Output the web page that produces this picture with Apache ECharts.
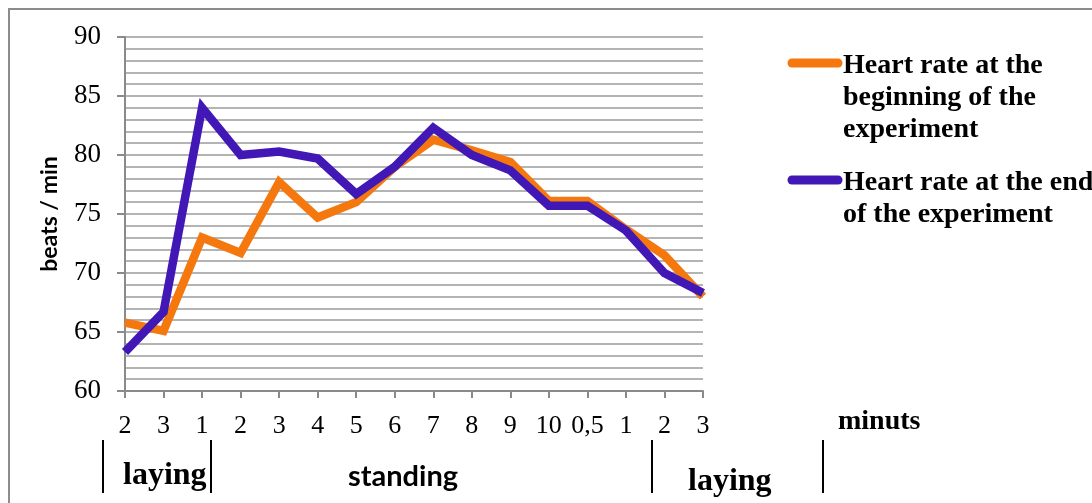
<!DOCTYPE html>
<html><head><meta charset="utf-8">
<script src="https://cdn.jsdelivr.net/npm/echarts@6/dist/echarts.min.js"></script>
<style>html,body{margin:0;padding:0;background:#fff}#c{width:1092px;height:503px}</style>
</head><body><div id="c"></div>
<script>
const categories = ['2','3','1','2','3','4','5','6','7','8','9','10','0,5','1','2','3'];
const seriesNames = ['Heart rate at the\nbeginning of the\nexperiment', 'Heart rate at the end\nof the experiment'];
const beginning = [65.8, 65.1, 73.0, 71.7, 77.7, 74.7, 76.0, 79.0, 81.3, 80.4, 79.4, 76.1, 76.1, 73.7, 71.5, 68.0];
const ending = [63.3, 66.7, 84.0, 80.0, 80.3, 79.7, 76.7, 79.0, 82.3, 80.0, 78.7, 75.7, 75.7, 73.6, 70.0, 68.3];
const colors = ['#F5780F', '#4118B6'];
const yTicks = [60, 90, 5];

const chart = echarts.init(document.getElementById('c'));
const serif = 'Liberation Serif';
const sans = 'Lato';

const legendGraphics = [];
const legendIconY = [63, 180];
const legendTextTop = [50, 167];
seriesNames.forEach((n, i) => {
  legendGraphics.push({type:'line', shape:{x1:792,y1:legendIconY[i],x2:838,y2:legendIconY[i]}, style:{stroke:colors[i], lineWidth:9, lineCap:'round'}});
  legendGraphics.push({type:'text', left:843, top:legendTextTop[i], style:{text:n, fontFamily:serif, fontWeight:'bold', fontSize:28, fill:'#000', lineHeight:32}});
});

chart.setOption({
  animation:false,
  grid:{left:125, top:37, width:578, height:354, containLabel:false},
  xAxis:{type:'category', data:categories, boundaryGap:false,
    axisLine:{lineStyle:{color:'#8a8a8a', width:2}},
    axisTick:{show:true, length:7, alignWithLabel:true, lineStyle:{color:'#8a8a8a', width:2}},
    axisLabel:{interval:0, margin:22, fontFamily:serif, fontSize:26, color:'#000'},
    splitLine:{show:false}},
  yAxis:{type:'value', min:yTicks[0], max:yTicks[1], interval:yTicks[2],
    name:'beats / min', nameLocation:'middle', nameRotate:90, nameGap:64,
    nameTextStyle:{fontFamily:sans, fontWeight:'bold', fontSize:23, color:'#000'},
    axisLine:{show:true, lineStyle:{color:'#8a8a8a', width:2}},
    axisTick:{show:true, length:8, lineStyle:{color:'#8a8a8a', width:2}},
    axisLabel:{margin:24, fontFamily:serif, fontSize:27, color:'#000'},
    splitLine:{show:true, lineStyle:{color:'#b4b4b4', width:2}},
    minorTick:{show:false, splitNumber:5},
    minorSplitLine:{show:true, lineStyle:{color:'#b4b4b4', width:2}}},
  series:[
    {name:seriesNames[0], type:'line', data:beginning, showSymbol:false, lineStyle:{color:colors[0], width:8.5, join:'miter'}, itemStyle:{color:colors[0]}, z:2},
    {name:seriesNames[1], type:'line', data:ending, showSymbol:false, lineStyle:{color:colors[1], width:8.5, join:'miter'}, itemStyle:{color:colors[1]}, z:3}
  ],
  graphic:[
    {type:'rect', shape:{x:9,y:9,width:1100,height:510}, style:{fill:'none', stroke:'#8c8c8c', lineWidth:2}, silent:true},
    ...legendGraphics,
    {type:'text', left:838, top:408, style:{text:'minuts', fontFamily:serif, fontWeight:'bold', fontSize:28, fill:'#000'}},
    {type:'line', shape:{x1:103,y1:440,x2:103,y2:493}, style:{stroke:'#000', lineWidth:2}},
    {type:'line', shape:{x1:211,y1:440,x2:211,y2:493}, style:{stroke:'#000', lineWidth:2}},
    {type:'line', shape:{x1:652,y1:440,x2:652,y2:493}, style:{stroke:'#000', lineWidth:2}},
    {type:'line', shape:{x1:823,y1:440,x2:823,y2:493}, style:{stroke:'#000', lineWidth:2}},
    {type:'text', left:123, top:460, style:{text:'laying', fontFamily:serif, fontWeight:'bold', fontSize:32, fill:'#000'}},
    {type:'text', left:348, top:462, style:{text:'standing', fontFamily:sans, fontWeight:'bold', fontSize:29, fill:'#000'}},
    {type:'text', left:688, top:466, style:{text:'laying', fontFamily:serif, fontWeight:'bold', fontSize:32, fill:'#000'}}
  ]
});
</script></body></html>
